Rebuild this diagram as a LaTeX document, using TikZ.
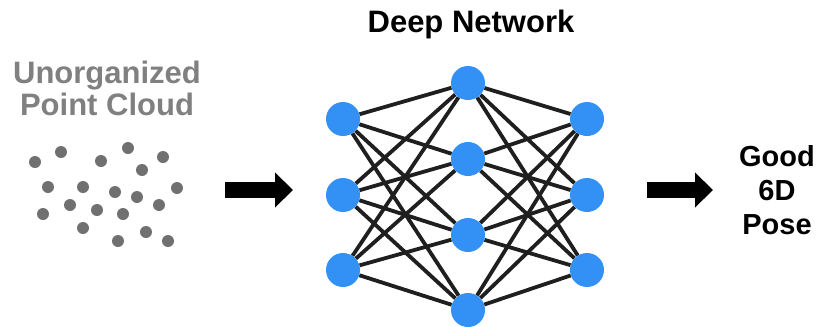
\documentclass[tikz,border=0pt]{standalone}
\usepackage{fontspec}
\setmainfont{Liberation Sans}
\usetikzlibrary{positioning, arrows.meta, calc}

\begin{document}
\begin{tikzpicture}[x=1pt, y=-1pt, >=latex, font=\bfseries]
    \definecolor{nblue}{RGB}{51, 145, 246} \definecolor{pgray}{RGB}{112, 112, 112} \definecolor{tgray}{RGB}{128, 128, 128}
    \tikzset{neuron/.style={circle, fill=nblue, inner sep=0pt, minimum size=34pt},
             pt/.style={circle, fill=pgray, inner sep=0pt, minimum size=12pt},
             link/.style={line width=3.8pt, draw=black!88},
             bigarrow/.style={line width=16pt, -{Triangle[length=18pt, width=34pt]}}}
    \useasboundingbox (0,0) rectangle (823,327);

    % point cloud
    \node[tgray, align=center, font=\bfseries\fontsize{31}{32}\selectfont] (cloud) at (107,88) {Unorganized\\Point Cloud};
    \foreach \x/\y [count=\i] in {35/162, 61/152, 101/161, 128/148, 163/157, 142/170, 48/187, 83/187, 115/192, 137/197,
                                  177/188, 70/205, 97/210, 123/214, 159/205, 43/214, 83/228, 118/241, 146/232, 168/241}
        \node[pt] (p\i) at (\x,\y) {};

    % network
    \node[anchor=base, font=\bfseries\fontsize{31}{32}\selectfont] (net) at (471,32) {Deep Network};
    \foreach \y [count=\i] in {119, 195, 270} \node[neuron] (l\i) at (343,\y) {};
    \foreach \y [count=\i] in {83, 159, 235, 310} \node[neuron] (h\i) at (468,\y) {};
    \foreach \y [count=\i] in {119, 195, 270} \node[neuron] (r\i) at (587,\y) {};
    \foreach \i in {1,2,3}
        \foreach \j in {1,2,3,4} {
            \draw[link] (l\i) -- (h\j);
            \draw[link] (h\j) -- (r\i);
        }

    % arrows
    \coordinate (a1s) at (225,190); \coordinate (a1e) at (293,190);
    \coordinate (a2s) at (647,190); \coordinate (a2e) at (713,190);
    \draw[bigarrow] (a1s) -- (a1e);
    \draw[bigarrow] (a2s) -- (a2e);

    \node[align=center, font=\bfseries\fontsize{29}{34}\selectfont] (pose) at (777,190) {Good\\6D\\Pose};
\end{tikzpicture}
\end{document}
